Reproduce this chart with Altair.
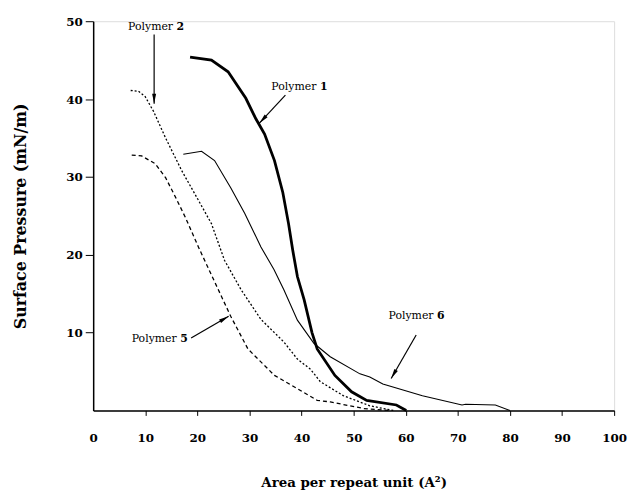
import altair as alt
import pandas as pd
import math

# Polymer 1 (thick solid)
p1_x = [18.6, 22.7, 25.9, 29.3, 31.2, 32.9, 34.8, 36.4, 37.5, 38.3, 39.2, 40.5, 42.0, 43.0, 46.4, 49.6, 52.5, 58.2, 60.1]
p1_y = [45.4, 45.0, 43.5, 40.1, 37.5, 35.5, 32.1, 28.0, 24.0, 20.6, 17.2, 14.2, 10.0, 7.9, 4.5, 2.4, 1.3, 0.7, 0.0]
# Polymer 6 (thin solid)
p6_x = [17.3, 20.8, 23.3, 26.4, 29.1, 32.2, 34.7, 36.6, 39.2, 42.4, 45.5, 51.2, 53.1, 55.6, 63.2, 70.8, 71.5, 77.2, 80.0]
p6_y = [32.9, 33.3, 32.1, 28.6, 25.3, 21.0, 18.1, 15.5, 11.6, 8.6, 6.9, 4.7, 4.3, 3.4, 1.9, 0.7, 0.8, 0.7, 0.0]
# Polymer 2 (dotted)
p2_x = [7.2, 8.7, 10.0, 11.6, 13.9, 17.0, 20.2, 22.7, 25.2, 28.4, 32.2, 36.6, 39.2, 41.7, 43.6, 48.0, 53.1, 57.6]
p2_y = [41.1, 41.0, 40.3, 38.4, 35.0, 30.8, 27.0, 24.0, 19.3, 15.5, 11.7, 8.8, 6.6, 5.3, 3.7, 1.9, 0.6, 0.0]
# Polymer 5 (dashed)
p5_x = [7.4, 9.3, 11.9, 13.9, 15.8, 17.7, 20.2, 23.4, 26.4, 29.7, 34.8, 39.2, 43.0, 45.5, 51.9, 56.9]
p5_y = [32.8, 32.7, 31.7, 29.9, 27.4, 24.8, 21.0, 16.4, 12.1, 7.9, 4.5, 2.8, 1.3, 1.1, 0.25, 0.0]

# annotations
lab_num = ["2", "1", "6", "5"]
lab_x = [6.7, 34.2, 56.7, 7.4]
lab_y = [49.2, 41.6, 12.1, 9.2]
arr_x1 = [11.7, 36.9, 62.0, 18.8]
arr_y1 = [48.3, 40.5, 9.7, 9.3]
arr_x2 = [11.7, 31.9, 57.2, 26.0]
arr_y2 = [39.4, 36.9, 4.1, 12.1]

W, H = 526, 393
FONT = "DejaVu Serif"

def mk(xs, ys):
    return pd.DataFrame({"x": xs, "y": ys, "i": list(range(len(xs)))})

xs = alt.Scale(domain=[0, 100], nice=False)
ys = alt.Scale(domain=[0, 50], nice=False)

xaxis = alt.Axis(values=list(range(0, 101, 10)), title="Area per repeat unit (A²)",
                 grid=False, tickSize=5, labelPadding=17, labelFont=FONT, labelFontSize=12,
                 labelFontWeight="bold", titleFont=FONT, titleFontSize=13.5, titleFontWeight="bold",
                 titleBaseline="alphabetic", titleY=77,
                 tickOpacity={"condition": {"test": "datum.value == 0", "value": 0}, "value": 1},
                 domainColor="black", domainWidth=1.5, tickColor="black",
                 labelColor="black", titleColor="black", labelFlush=False)
yaxis = alt.Axis(values=[10, 20, 30, 40, 50], title="Surface Pressure (mN/m)",
                 grid=False, tickSize=8, labelPadding=3, labelFont=FONT, labelFontSize=12,
                 labelFontWeight="bold", titleFont=FONT, titleFontSize=16, titleFontWeight="bold",
                 titlePadding=38, domainColor="black", domainWidth=1.5, tickColor="black",
                 labelColor="black", titleColor="black", labelFlush=False)

def line(df, width, dash=None, axes=False):
    kw = dict(color="black", strokeWidth=width)
    if dash:
        kw["strokeDash"] = dash
    m = alt.Chart(df).mark_line(**kw)
    if axes:
        return m.encode(x=alt.X("x:Q", scale=xs, axis=xaxis), y=alt.Y("y:Q", scale=ys, axis=yaxis), order="i:Q")
    return m.encode(x=alt.X("x:Q", scale=xs), y=alt.Y("y:Q", scale=ys), order="i:Q")

l1 = line(mk(p1_x, p1_y), 2.8, axes=True)
l6 = line(mk(p6_x, p6_y), 1.1)
l2 = line(mk(p2_x, p2_y), 1.3, [2, 2])
l5 = line(mk(p5_x, p5_y), 1.3, [4, 3])

ann = pd.DataFrame({"num": lab_num, "x": lab_x, "y": lab_y, "w": ["Polymer"] * 4})
words = alt.Chart(ann).mark_text(align="left", baseline="middle", font=FONT, fontSize=11, color="black").encode(
    x=alt.X("x:Q", scale=xs), y=alt.Y("y:Q", scale=ys), text="w:N")
nums = alt.Chart(ann).mark_text(align="left", baseline="middle", font=FONT, fontSize=11, fontWeight="bold",
                                color="black", dx=49).encode(
    x=alt.X("x:Q", scale=xs), y=alt.Y("y:Q", scale=ys), text="num:N")

sx, sy = W / 100.0, H / 50.0
angles = []
for a, b, c, d in zip(arr_x1, arr_y1, arr_x2, arr_y2):
    dxp = (c - a) * sx
    dyp = -(d - b) * sy
    angles.append((math.degrees(math.atan2(dxp, -dyp)) + 360) % 360)
arr = pd.DataFrame({"x1": arr_x1, "y1": arr_y1, "x2": arr_x2, "y2": arr_y2, "ang": angles})
shafts = alt.Chart(arr).mark_rule(color="black", strokeWidth=1.2).encode(
    x=alt.X("x1:Q", scale=xs), y=alt.Y("y1:Q", scale=ys), x2="x2:Q", y2="y2:Q")
heads = alt.Chart(arr).mark_point(shape="M0,0L0.4,2L-0.4,2Z", filled=True, color="black", opacity=1,
                                  size=100, strokeWidth=0).encode(
    x=alt.X("x2:Q", scale=xs), y=alt.Y("y2:Q", scale=ys), angle=alt.Angle("ang:Q", scale=None))

chart = alt.layer(l1, l6, l2, l5, shafts, heads, words, nums).properties(
    width=W, height=H,
    autosize=alt.AutoSizeParams(type="none"),
    padding={"left": 86, "top": 11, "right": 15, "bottom": 81},
).configure_view(stroke=None).configure(background="white")

chart.save("out.html", embed_options={"renderer": "svg", "actions": False})
